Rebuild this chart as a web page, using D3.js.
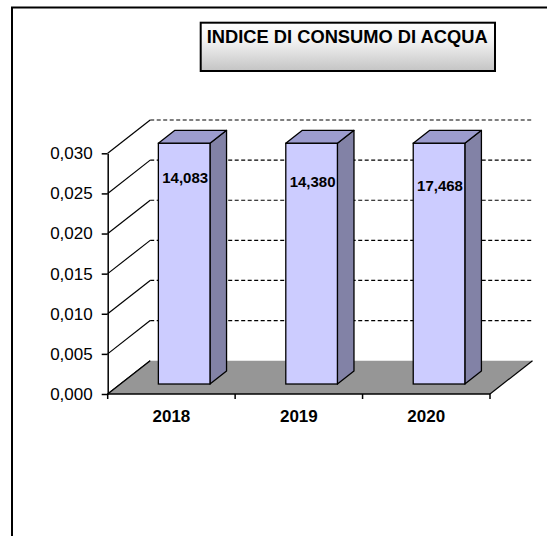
<!DOCTYPE html>
<html>
<head>
<meta charset="utf-8">
<script src="https://cdn.jsdelivr.net/npm/d3@7"></script>
<style>
  body { margin: 0; background: #fff; overflow: hidden; }
  svg { display: block; font-family: "Liberation Sans", Arial, sans-serif; }
</style>
</head>
<body>
<div id="chart"></div>
<script>
// dati
const years = ['2018', '2019', '2020'];
const values = [14.083, 14.380, 17.468];
const yTicks = [0, 0.005, 0.010, 0.015, 0.020, 0.025, 0.030];
const yMax = 0.030;
const title = 'INDICE DI CONSUMO DI ACQUA';

// spostamento verticale delle etichette (come nel grafico originale)
const labelNudge = [0, 4, 7.5];

const width = 547, height = 536;
const itFormat = d3.formatLocale({ decimal: ',', thousands: '.', grouping: [3], currency: ['', '€'] });
const fmtTick = itFormat.format('.3f');
const fmtVal = itFormat.format('.3f');

// profondità 3D
const DX = 42.5, DY = -33.3;
const depthFront = 0.3, depthBack = 0.69;

const svg = d3.select('#chart').append('svg')
  .attr('width', width)
  .attr('height', height);

// gradiente del titolo
const grad = svg.append('defs').append('linearGradient')
  .attr('id', 'titleGrad').attr('x1', 0).attr('y1', 0).attr('x2', 0).attr('y2', 1);
grad.append('stop').attr('offset', '0%').attr('stop-color', '#ffffff');
grad.append('stop').attr('offset', '35%').attr('stop-color', '#f4f4f4');
grad.append('stop').attr('offset', '100%').attr('stop-color', '#c4c4c4');

// cornice (solo lati superiore e sinistro visibili)
svg.append('path')
  .attr('d', `M12,${height} L12,7.5 L${width},7.5`)
  .attr('fill', 'none').attr('stroke', '#000').attr('stroke-width', 2);

// scale
const x = d3.scaleBand().domain(years).range([107.7, 490]).padding(0);
const y = d3.scaleLinear().domain([0, yMax]).range([394, 153.3]);
const x0 = x.range()[0], x1 = x.range()[1];

// parete di fondo: griglia tratteggiata
svg.append('g').selectAll('line')
  .data(yTicks.filter(d => d > 0))
  .enter().append('line')
  .attr('x1', x0 + DX).attr('x2', x1 + DX + 0.7)
  .attr('y1', d => y(d) + DY).attr('y2', d => y(d) + DY)
  .attr('stroke', '#000').attr('stroke-width', 1.2)
  .attr('stroke-dasharray', '4,2.5');

// parete laterale: diagonali
svg.append('g').selectAll('line')
  .data(yTicks)
  .enter().append('line')
  .attr('x1', x0).attr('y1', d => y(d))
  .attr('x2', x0 + DX).attr('y2', d => y(d) + DY)
  .attr('stroke', '#000').attr('stroke-width', 1.2);

// pavimento
const y0 = y(0);
svg.append('polygon')
  .attr('points', [[x0, y0], [x1, y0], [x1 + DX, y0 + DY], [x0 + DX, y0 + DY]].join(' '))
  .attr('fill', '#969696');
svg.append('line')
  .attr('x1', x1).attr('y1', y0).attr('x2', x1 + DX).attr('y2', y0 + DY)
  .attr('stroke', '#000').attr('stroke-width', 1.2);
svg.append('line')
  .attr('x1', x0).attr('y1', y0).attr('x2', x0 + DX).attr('y2', y0 + DY)
  .attr('stroke', '#000').attr('stroke-width', 1.2);

// barre
const bw = x.bandwidth() * 0.405;
const ddx = DX * (depthBack - depthFront), ddy = DY * (depthBack - depthFront);
const bars = svg.append('g').selectAll('g')
  .data(years.map((yr, i) => ({ yr, v: values[i], i })))
  .enter().append('g');

bars.each(function(d) {
  const g = d3.select(this);
  const fx = x(d.yr) + x.bandwidth() / 2 - bw / 2 + DX * depthFront;
  const top = y(Math.min(d.v, yMax)) + DY * depthFront;
  const bot = y(0) + DY * depthFront;
  d.fx = fx; d.top = top;

  g.append('polygon')
    .attr('points', [[fx + bw, top], [fx + bw + ddx, top + ddy], [fx + bw + ddx, bot + ddy], [fx + bw, bot]].join(' '))
    .attr('fill', '#8282a6').attr('stroke', '#000').attr('stroke-width', 1.3).attr('stroke-linejoin', 'round');
  g.append('polygon')
    .attr('points', [[fx, top], [fx + ddx, top + ddy], [fx + bw + ddx, top + ddy], [fx + bw, top]].join(' '))
    .attr('fill', '#9c9cce').attr('stroke', '#000').attr('stroke-width', 1.3).attr('stroke-linejoin', 'round');
  g.append('rect')
    .attr('x', fx).attr('y', top)
    .attr('width', bw).attr('height', bot - top)
    .attr('fill', '#ccccff').attr('stroke', '#000').attr('stroke-width', 1.3);
});

// etichette valori
svg.append('g').selectAll('text')
  .data(bars.data())
  .enter().append('text')
  .attr('x', d => d.fx + bw / 2 + 1)
  .attr('y', d => d.top + 40 + labelNudge[d.i])
  .attr('text-anchor', 'middle')
  .style('font-size', '15px')
  .style('font-weight', 'bold')
  .text(d => fmtVal(d.v));

// asse Y
const yAxis = svg.append('g')
  .attr('transform', `translate(${x0},0)`)
  .call(d3.axisLeft(y).tickValues(yTicks).tickFormat(fmtTick).tickSize(6).tickSizeOuter(0).tickPadding(9));
yAxis.select('.domain').attr('stroke', '#000').attr('stroke-width', 1.5);
yAxis.selectAll('.tick line').attr('stroke', '#000').attr('stroke-width', 1.5);
yAxis.selectAll('.tick text')
  .attr('fill', '#000')
  .style('font-size', '17px')
  .style('font-family', '"Liberation Sans", Arial, sans-serif');

// asse X
const xEdges = d3.scaleLinear().domain([0, years.length]).range([x0, x1]);
svg.append('line')
  .attr('x1', x0).attr('x2', x1).attr('y1', y0).attr('y2', y0)
  .attr('stroke', '#000').attr('stroke-width', 1.5);
svg.append('g').selectAll('line')
  .data(d3.range(years.length + 1))
  .enter().append('line')
  .attr('x1', d => xEdges(d)).attr('x2', d => xEdges(d))
  .attr('y1', y0).attr('y2', y0 + 5)
  .attr('stroke', '#000').attr('stroke-width', 1.5);
svg.append('g').selectAll('text')
  .data(years)
  .enter().append('text')
  .attr('x', d => x(d) + x.bandwidth() / 2)
  .attr('y', 421.7)
  .attr('text-anchor', 'middle')
  .style('font-size', '17px')
  .style('font-weight', 'bold')
  .text(d => d);

// titolo
svg.append('rect')
  .attr('x', 200.7).attr('y', 22.7)
  .attr('width', 294.3).attr('height', 48.3)
  .attr('fill', 'url(#titleGrad)')
  .attr('stroke', '#000').attr('stroke-width', 2);
svg.append('text')
  .attr('x', 206.7).attr('y', 43.3)
  .attr('textLength', 281)
  .attr('lengthAdjust', 'spacingAndGlyphs')
  .style('font-size', '18px')
  .style('font-weight', 'bold')
  .text(title);
</script>
</body>
</html>
